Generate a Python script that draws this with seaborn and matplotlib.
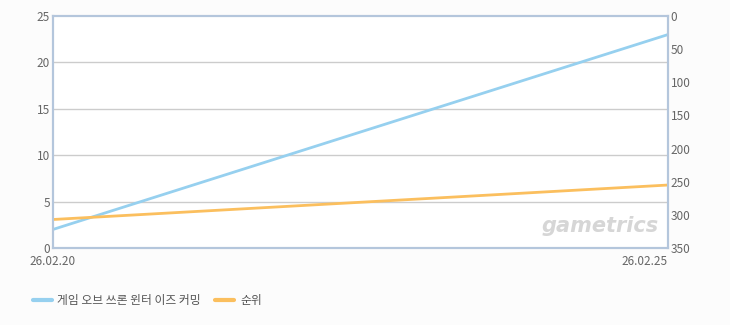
import matplotlib
matplotlib.use("Agg")
import matplotlib.pyplot as plt
import seaborn as sns
import pandas as pd
from matplotlib.lines import Line2D

dates = ["26.02.20", "26.02.25"]
players = [2, 23]
ranks = [307, 255]
series_name = "게임 오브 쓰론 윈터 이즈 커밍"
rank_name = "순위"

sns.set_theme(style="white")
plt.rcParams['font.family'] = ['Noto Sans CJK KR', 'DejaVu Sans']

df = pd.DataFrame({"x": [0, 1], "players": players, "rank": ranks})

fig = plt.figure(figsize=(7.3, 3.25), dpi=100, facecolor="#fcfcfc")
ax = fig.add_axes([53/730, 1-248/325, (668-53)/730, (248-16)/325])
ax.set_facecolor("#ffffff")
ax2 = ax.twinx()

blue = "#96d0ef"
orange = "#fbbf5e"
sns.lineplot(data=df, x="x", y="players", ax=ax, color=blue, linewidth=2, legend=False)
sns.lineplot(data=df, x="x", y="rank", ax=ax2, color=orange, linewidth=2, legend=False)

ax.set_xlim(0, 1)
ax.set_ylim(0, 25)
ax.set_yticks([0, 5, 10, 15, 20, 25])
ax2.set_ylim(350, 0)
ax2.set_yticks([0, 50, 100, 150, 200, 250, 300, 350])
for y in [5, 10, 15, 20]:
    ax.axhline(y, color="#cccccc", linewidth=1, zorder=0)

ax.set_xticks([0, 1])
ax.set_xticklabels(dates)
for a in (ax, ax2):
    a.set_xlabel("")
    a.set_ylabel("")
    a.tick_params(axis="both", length=0, pad=2, labelsize=8.5, labelcolor="#666666")
    for s in a.spines.values():
        s.set_color("#b4c6dc")
        s.set_linewidth(1.5)
ax.tick_params(axis="x", pad=5)
ax.get_xticklabels()[0].set_ha("center")
ax.get_xticklabels()[1].set_ha("right")

ax.text(0.985, 0.05, "gametrics", transform=ax.transAxes, ha="right", va="bottom",
        fontsize=15, fontstyle="italic", fontweight="bold", color="#d6d6d6",
        family="DejaVu Sans")

handles = [Line2D([], [], color=blue, linewidth=3), Line2D([], [], color=orange, linewidth=3)]
fig.legend(handles, [series_name, rank_name], loc="lower left", bbox_to_anchor=(22/730, 7/325),
           ncol=2, frameon=False, fontsize=8.5, labelcolor="#555555", handlelength=1.6,
           handletextpad=0.5, columnspacing=1.2)

fig.savefig("out.png", dpi=100, facecolor=fig.get_facecolor())
